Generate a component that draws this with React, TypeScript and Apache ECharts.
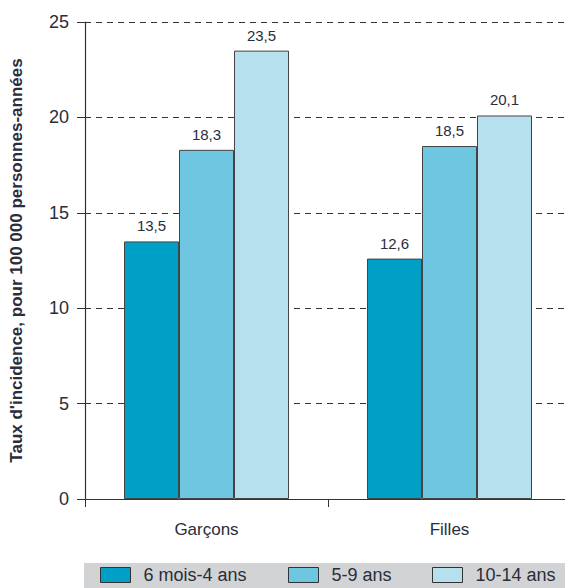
import React, { useEffect, useRef } from "react";
import * as echarts from "echarts";

const categories = ["Garçons", "Filles"];
const seriesNames = ["6 mois-4 ans", "5-9 ans", "10-14 ans"];
const values06_4 = [13.5, 12.6];
const values5_9 = [18.3, 18.5];
const values10_14 = [23.5, 20.1];
const yTicks = [0, 5, 10, 15, 20, 25];
const colors = ["#00a0c6", "#6ec6e0", "#b7e0ee"];

const FONT = "'Liberation Sans Narrow', 'Liberation Sans', Arial, sans-serif";
const TXT = "#2a2d3a";
const legendLefts = [100, 288, 432];

export default function App() {
  const ref = useRef<HTMLDivElement>(null);
  useEffect(() => {
    const chart = echarts.init(ref.current!, null, { renderer: "svg" });
    const data = [values06_4, values5_9, values10_14];
    chart.setOption({
      animation: false,
      textStyle: { fontFamily: FONT },
      graphic: [
        {
          type: "rect",
          z: -1,
          shape: { x: 84, y: 563, width: 500, height: 30 },
          style: { fill: "#d2d3d5" },
        },
      ],
      legend: seriesNames.map((name, i) => ({
        data: [name],
        left: legendLefts[i],
        top: 566,
        padding: 0,
        itemWidth: 30,
        itemHeight: 15,
        icon: "rect",
        textStyle: { fontSize: 18, color: TXT, fontFamily: FONT, padding: [0, 0, 0, 8] },
        itemStyle: { borderColor: "#333", borderWidth: 1 },
      })),
      grid: {
        left: 85,
        right: 9,
        top: 22,
        bottom: 89,
        containLabel: false,
        outerBoundsMode: "none",
      },
      xAxis: {
        type: "category",
        data: categories,
        axisLine: { lineStyle: { color: "#333", width: 1.2 } },
        axisTick: { show: true, length: 8, lineStyle: { color: "#333" } },
        axisLabel: { fontSize: 17, color: TXT, margin: 22, fontFamily: FONT },
      },
      yAxis: {
        type: "value",
        min: yTicks[0],
        max: yTicks[yTicks.length - 1],
        interval: 5,
        name: "Taux d'incidence, pour 100 000 personnes-années",
        nameLocation: "middle",
        nameGap: 60,
        nameTextStyle: { fontSize: 17, fontWeight: "bold", color: TXT, fontFamily: FONT },
        axisLine: { show: true, lineStyle: { color: "#333", width: 1.2 } },
        axisTick: { show: true, length: 8, inside: false, lineStyle: { color: "#333" } },
        axisLabel: { fontSize: 18, color: TXT, margin: 16, fontFamily: FONT },
        splitLine: { show: true, lineStyle: { color: "#333", type: [6, 5], width: 1 } },
      },
      series: seriesNames.map((name, i) => ({
        name,
        type: "bar",
        data: data[i],
        barWidth: 55,
        barGap: "0%",
        itemStyle: { color: colors[i], borderColor: "#444", borderWidth: 1 },
        label: {
          show: true,
          position: "top",
          distance: 8,
          fontSize: 15,
          color: TXT,
          fontFamily: FONT,
          formatter: (p: any) => String(p.value).replace(".", ","),
        },
      })),
    });
    return () => chart.dispose();
  }, []);
  return (
    <div
      ref={ref}
      style={{ position: "absolute", left: 0, top: 0, width: 580, height: 588 }}
    />
  );
}
